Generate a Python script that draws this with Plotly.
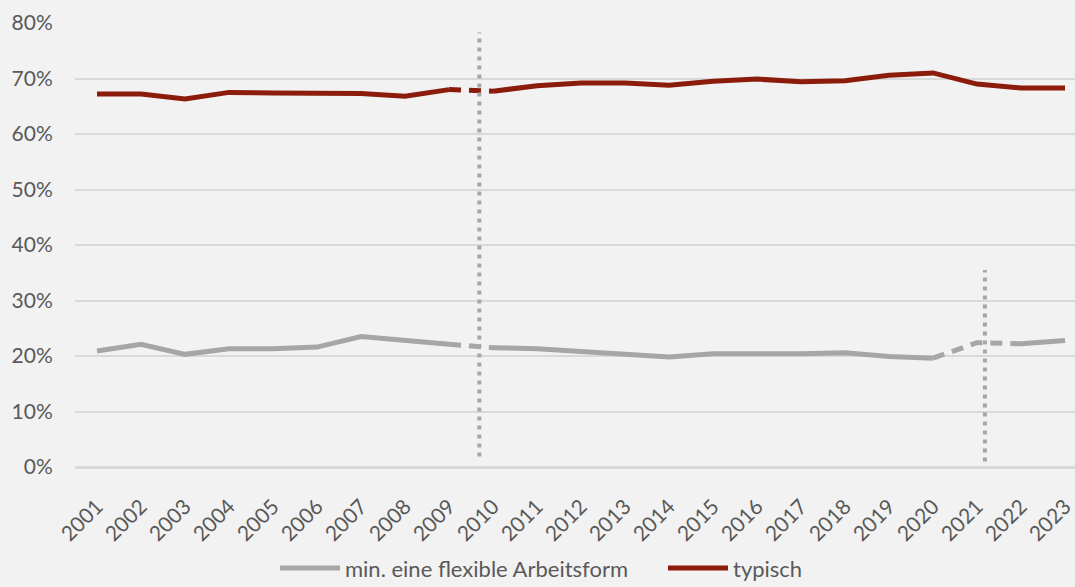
import plotly.graph_objects as go

years = list(range(2001, 2024))
flex = [20.9, 22.1, 20.3, 21.3, 21.3, 21.6, 23.5, 22.8, 22.1, 21.5, 21.3,
        20.8, 20.2, 19.8, 20.4, 20.3, 20.4, 20.6, 19.9, 19.6, 22.4, 22.2, 22.8]
typisch = [67.2, 67.2, 66.3, 67.5, 67.4, 67.4, 67.3, 66.8, 68.0, 67.7, 68.7,
           69.2, 69.2, 68.8, 69.5, 69.9, 69.4, 69.6, 70.6, 71.0, 69.0, 68.3, 68.3]
flex_dashed = [(2009, 2010), (2020, 2022)]
typ_dashed = [(2009, 2010)]
breaks = [(2009.69, 1.9, 78.3), (2021.18, 1.0, 35.5)]

names = ["min. eine flexible Arbeitsform", "typisch"]
colors = ["#a6a6a6", "#8b1c0b"]
FONT = "Lato"
TXT = "#595959"

def segments(xs, ys, dashed):
    segs = []
    for i in range(len(xs) - 1):
        is_d = any(a <= xs[i] and xs[i + 1] <= b for a, b in dashed)
        if segs and segs[-1][0] == is_d:
            segs[-1][1].append(xs[i + 1]); segs[-1][2].append(ys[i + 1])
        else:
            segs.append([is_d, [xs[i], xs[i + 1]], [ys[i], ys[i + 1]]])
    return segs

fig = go.Figure()
for name, col, vals, dsh in [(names[0], colors[0], flex, flex_dashed),
                             (names[1], colors[1], typisch, typ_dashed)]:
    first = True
    for is_d, xs, ys in segments(years, vals, dsh):
        fig.add_trace(go.Scatter(
            x=xs, y=ys, mode="lines", name=name, legendgroup=name,
            showlegend=first,
            line=dict(color=col, width=5, dash="12px,8px" if is_d else "solid"),
            hoverinfo="skip"))
        first = False

for xb, y0, y1 in breaks:
    fig.add_shape(type="line", xref="x", yref="y", x0=xb, x1=xb, y0=y0, y1=y1,
                  line=dict(color="#a6a6a6", width=4, dash="4px,5px"))

fig.update_layout(
    width=1075, height=587,
    paper_bgcolor="#f2f2f2", plot_bgcolor="#f2f2f2",
    margin=dict(l=75, r=0, t=23, b=120, autoexpand=False),
    font=dict(family=FONT, size=21, color=TXT),
    showlegend=True,
    legend=dict(orientation="h", x=0.2, xanchor="left",
                yref="container", y=0.032, yanchor="middle",
                itemwidth=60, entrywidth=313,
                font=dict(family=FONT, size=22, color=TXT),
                bgcolor="rgba(0,0,0,0)"),
)
fig.update_xaxes(
    range=[2000.5, 2000.5 + 1000 / 44], tickmode="array", tickvals=years,
    ticktext=[str(y) for y in years], tickangle=-45, showgrid=False,
    ticks="outside", ticklen=18, tickcolor="rgba(0,0,0,0)", zeroline=False,
    showline=False, automargin=False, ticklabeloverflow="allow",
    tickfont=dict(family=FONT, size=21, color=TXT))
fig.update_yaxes(
    range=[0, 80], dtick=10, ticksuffix="%", showgrid=True,
    gridcolor="#d9d9d9", gridwidth=1.5, zeroline=True, zerolinecolor="#d9d9d9",
    zerolinewidth=2.5, ticks="outside", ticklen=17, automargin=False,
    tickcolor="rgba(0,0,0,0)", tickfont=dict(family=FONT, size=21, color=TXT))

fig.write_html("out.html")
